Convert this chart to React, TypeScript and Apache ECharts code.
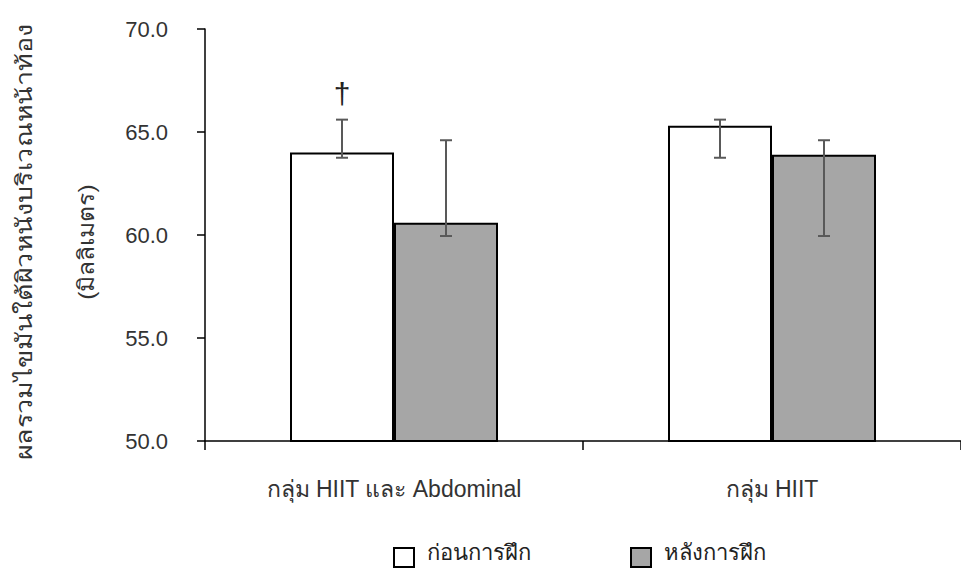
import React, { useEffect, useRef } from "react";
import * as echarts from "echarts";

const categories = ["กลุ่ม HIIT และ Abdominal", "กลุ่ม HIIT"];
const seriesNames = ["ก่อนการฝึก", "หลังการฝึก"];
const beforeValues = [64.0, 65.3];
const afterValues = [60.6, 63.9];
const beforeErrLow = [63.75, 63.75];
const beforeErrHigh = [65.6, 65.6];
const afterErrLow = [59.95, 59.95];
const afterErrHigh = [64.6, 64.6];
const beforeMarks = ["†", ""];
const afterMarks = ["", ""];
const yMin = 50;
const yMax = 70;
const yInterval = 5;
const yTitleLine1 = "ผลรวมไขมันใต้ผิวหนังบริเวณหน้าท้อง";
const yTitleLine2 = "(มิลลิเมตร)";

const FONT = "'Liberation Sans', Arial, 'Noto Sans', sans-serif";
const BAR_W = 104;
// legend icon: square in the lower part of a 20x30 box (keeps text higher than the icon)
const LEGEND_ICON = "path://M0,0 M0,11 L20,11 L20,30 L0,30 Z";

export default function App() {
  const ref = useRef<HTMLDivElement>(null);
  useEffect(() => {
    if (!ref.current) return;
    const chart = echarts.init(ref.current, null, { renderer: "svg" });

    const errItems: { cat: number; side: number; low: number; high: number; mark: string }[] = [];
    categories.forEach((_, i) => {
      errItems.push({ cat: i, side: -1, low: beforeErrLow[i], high: beforeErrHigh[i], mark: beforeMarks[i] });
      errItems.push({ cat: i, side: 1, low: afterErrLow[i], high: afterErrHigh[i], mark: afterMarks[i] });
    });

    const legendText = {
      fontFamily: FONT,
      fontSize: 22,
      color: "#222",
      padding: [0, 0, 0, 8],
    };

    chart.setOption({
      animation: false,
      backgroundColor: "#ffffff",
      grid: { left: 205, top: 29, width: 764, height: 412, containLabel: false },
      legend: [
        {
          data: [seriesNames[0]],
          left: 393,
          top: 536,
          padding: 0,
          itemWidth: 20,
          itemHeight: 30,
          icon: LEGEND_ICON,
          textStyle: legendText,
        },
        {
          data: [seriesNames[1]],
          left: 630,
          top: 536,
          padding: 0,
          itemWidth: 20,
          itemHeight: 30,
          icon: LEGEND_ICON,
          textStyle: legendText,
        },
      ],
      xAxis: {
        type: "category",
        data: categories,
        axisLine: { lineStyle: { color: "#000", width: 1.5 } },
        axisTick: { show: true, length: 9, lineStyle: { color: "#000", width: 1.5 } },
        axisLabel: { fontFamily: FONT, fontSize: 23, color: "#333", margin: 36 },
      },
      yAxis: {
        type: "value",
        min: yMin,
        max: yMax,
        interval: yInterval,
        splitLine: { show: false },
        axisLine: { show: true, lineStyle: { color: "#000", width: 1.5 } },
        axisTick: { show: true, length: 8, lineStyle: { color: "#000", width: 1.5 } },
        axisLabel: {
          fontFamily: FONT,
          fontSize: 22,
          color: "#333",
          margin: 37,
          formatter: (v: number) => v.toFixed(1),
        },
      },
      graphic: [
        {
          type: "text",
          x: 24,
          y: 242,
          rotation: Math.PI / 2,
          scaleX: 1.22,
          style: {
            text: yTitleLine1,
            fontFamily: FONT,
            fontSize: 22,
            fill: "#333",
            align: "center",
            verticalAlign: "middle",
          },
        },
        {
          type: "text",
          x: 86,
          y: 242,
          rotation: Math.PI / 2,
          scaleX: 1.12,
          style: {
            text: yTitleLine2,
            fontFamily: FONT,
            fontSize: 22,
            fill: "#333",
            align: "center",
            verticalAlign: "middle",
          },
        },
      ],
      series: [
        {
          name: seriesNames[0],
          type: "bar",
          data: beforeValues,
          barWidth: BAR_W,
          barGap: "0%",
          itemStyle: { color: "#ffffff", borderColor: "#000", borderWidth: 2 },
        },
        {
          name: seriesNames[1],
          type: "bar",
          data: afterValues,
          barWidth: BAR_W,
          barGap: "0%",
          itemStyle: { color: "#a6a6a6", borderColor: "#000", borderWidth: 2 },
        },
        {
          type: "custom",
          data: errItems.map((e) => [e.cat, e.low, e.high]),
          encode: { x: 0, y: [1, 2] },
          z: 10,
          renderItem: (params: any, api: any) => {
            const item = errItems[params.dataIndex];
            const pLow = api.coord([item.cat, item.low]);
            const pHigh = api.coord([item.cat, item.high]);
            const x = pLow[0] + (item.side * BAR_W) / 2;
            const cap = 6;
            const st = { stroke: "#595959", lineWidth: 2 };
            const children: any[] = [
              { type: "line", shape: { x1: x, y1: pLow[1], x2: x, y2: pHigh[1] }, style: st },
              { type: "line", shape: { x1: x - cap, y1: pLow[1], x2: x + cap, y2: pLow[1] }, style: st },
              { type: "line", shape: { x1: x - cap, y1: pHigh[1], x2: x + cap, y2: pHigh[1] }, style: st },
            ];
            if (item.mark) {
              children.push({
                type: "text",
                x: x,
                y: pHigh[1] - 26,
                style: {
                  text: item.mark,
                  fontFamily: FONT,
                  fontSize: 30,
                  fill: "#222",
                  align: "center",
                  verticalAlign: "middle",
                },
              });
            }
            return { type: "group", children };
          },
        },
      ],
    });
    return () => chart.dispose();
  }, []);
  return (
    <div
      ref={ref}
      style={{ position: "fixed", left: 0, top: 0, width: 961, height: 568, background: "#fff" }}
    />
  );
}
